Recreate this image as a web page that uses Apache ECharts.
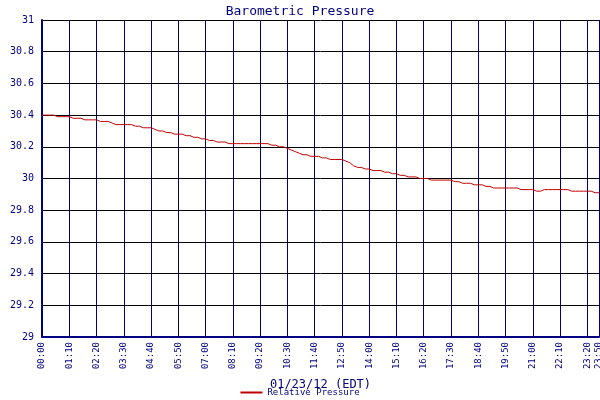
<!DOCTYPE html>
<html><head><meta charset="utf-8">
<script src="https://cdn.jsdelivr.net/npm/echarts@6/dist/echarts.min.js"></script>
<style>html,body{margin:0;padding:0;background:#fff}#c{width:600px;height:400px}</style>
</head><body><div id="c"></div>
<script>
const times = [];
for (let m = 0; m < 1440; m += 10) times.push(String(Math.floor(m/60)).padStart(2,'0') + ':' + String(m%60).padStart(2,'0'));
const pressure = [
30.40,30.40,30.40,30.40,30.39,30.39,30.39,
30.39,30.38,30.38,30.38,30.37,30.37,30.37,
30.37,30.36,30.36,30.36,30.35,30.34,30.34,
30.34,30.34,30.34,30.33,30.33,30.32,30.32,
30.32,30.31,30.30,30.30,30.29,30.29,30.28,
30.28,30.28,30.27,30.27,30.26,30.26,30.25,
30.25,30.24,30.24,30.23,30.23,30.23,30.22,
30.22,30.22,30.22,30.22,30.22,30.22,30.22,
30.22,30.22,30.22,30.21,30.21,30.20,30.20,
30.19,30.18,30.17,30.16,30.15,30.15,30.14,
30.14,30.14,30.13,30.13,30.12,30.12,30.12,
30.12,30.11,30.10,30.08,30.07,30.07,30.06,
30.06,30.05,30.05,30.05,30.04,30.04,30.03,
30.03,30.02,30.02,30.01,30.01,30.01,30.00,
30.00,30.00,29.99,29.99,29.99,29.99,29.99,
29.99,29.98,29.98,29.97,29.97,29.97,29.96,
29.96,29.96,29.95,29.95,29.94,29.94,29.94,
29.94,29.94,29.94,29.94,29.93,29.93,29.93,
29.93,29.92,29.92,29.93,29.93,29.93,29.93,
29.93,29.93,29.93,29.92,29.92,29.92,29.92,
29.92,29.92,29.91,29.91];
const yTicks = {min: 29, max: 31, step: 0.2};
const navy = '#000080', red = '#c00000', F = 'DejaVu Sans Mono';
const showTick = (i) => i % 7 === 0 || i === times.length - 1;
const chart = echarts.init(document.getElementById('c'));
chart.setOption({
  animation: false,
  title: {text: 'Barometric Pressure', left: 'center', top: 0,
    textStyle: {fontFamily: F, fontSize: 13, fontWeight: 'normal', color: navy}},
  legend: {bottom: -2, left: 'center', itemWidth: 22, itemHeight: 2, icon: 'rect',
    textStyle: {fontFamily: F, fontSize: 9, color: navy}},
  grid: {left: 42, right: 1, top: 20, bottom: 63, containLabel: false, outerBoundsMode: 'none'},
  xAxis: {type: 'category', data: times, boundaryGap: false,
    name: '01/23/12 (EDT)', nameLocation: 'middle', nameGap: 42,
    nameTextStyle: {fontFamily: F, fontSize: 12, color: navy},
    axisLine: {lineStyle: {color: navy, width: 2}},
    axisTick: {show: false},
    axisLabel: {interval: showTick, rotate: 90, fontFamily: F, fontSize: 9, color: navy, margin: 5},
    splitLine: {show: true, interval: showTick, lineStyle: {color: navy, width: 1}}},
  yAxis: {type: 'value', min: yTicks.min, max: yTicks.max, interval: yTicks.step,
    name: 'IN Hg', nameLocation: 'middle', nameGap: 32,
    nameTextStyle: {fontFamily: F, fontSize: 10, color: navy},
    axisLine: {show: true, lineStyle: {color: navy, width: 2}},
    axisTick: {show: false},
    axisLabel: {fontFamily: F, fontSize: 10, color: navy, formatter: v => String(+v.toFixed(1))},
    splitLine: {lineStyle: {color: '#000000', width: 1}}},
  series: [{name: 'Relative Pressure', type: 'line', data: pressure, symbol: 'none',
    itemStyle: {color: red}, lineStyle: {color: red, width: 1}}]
});
</script></body></html>
